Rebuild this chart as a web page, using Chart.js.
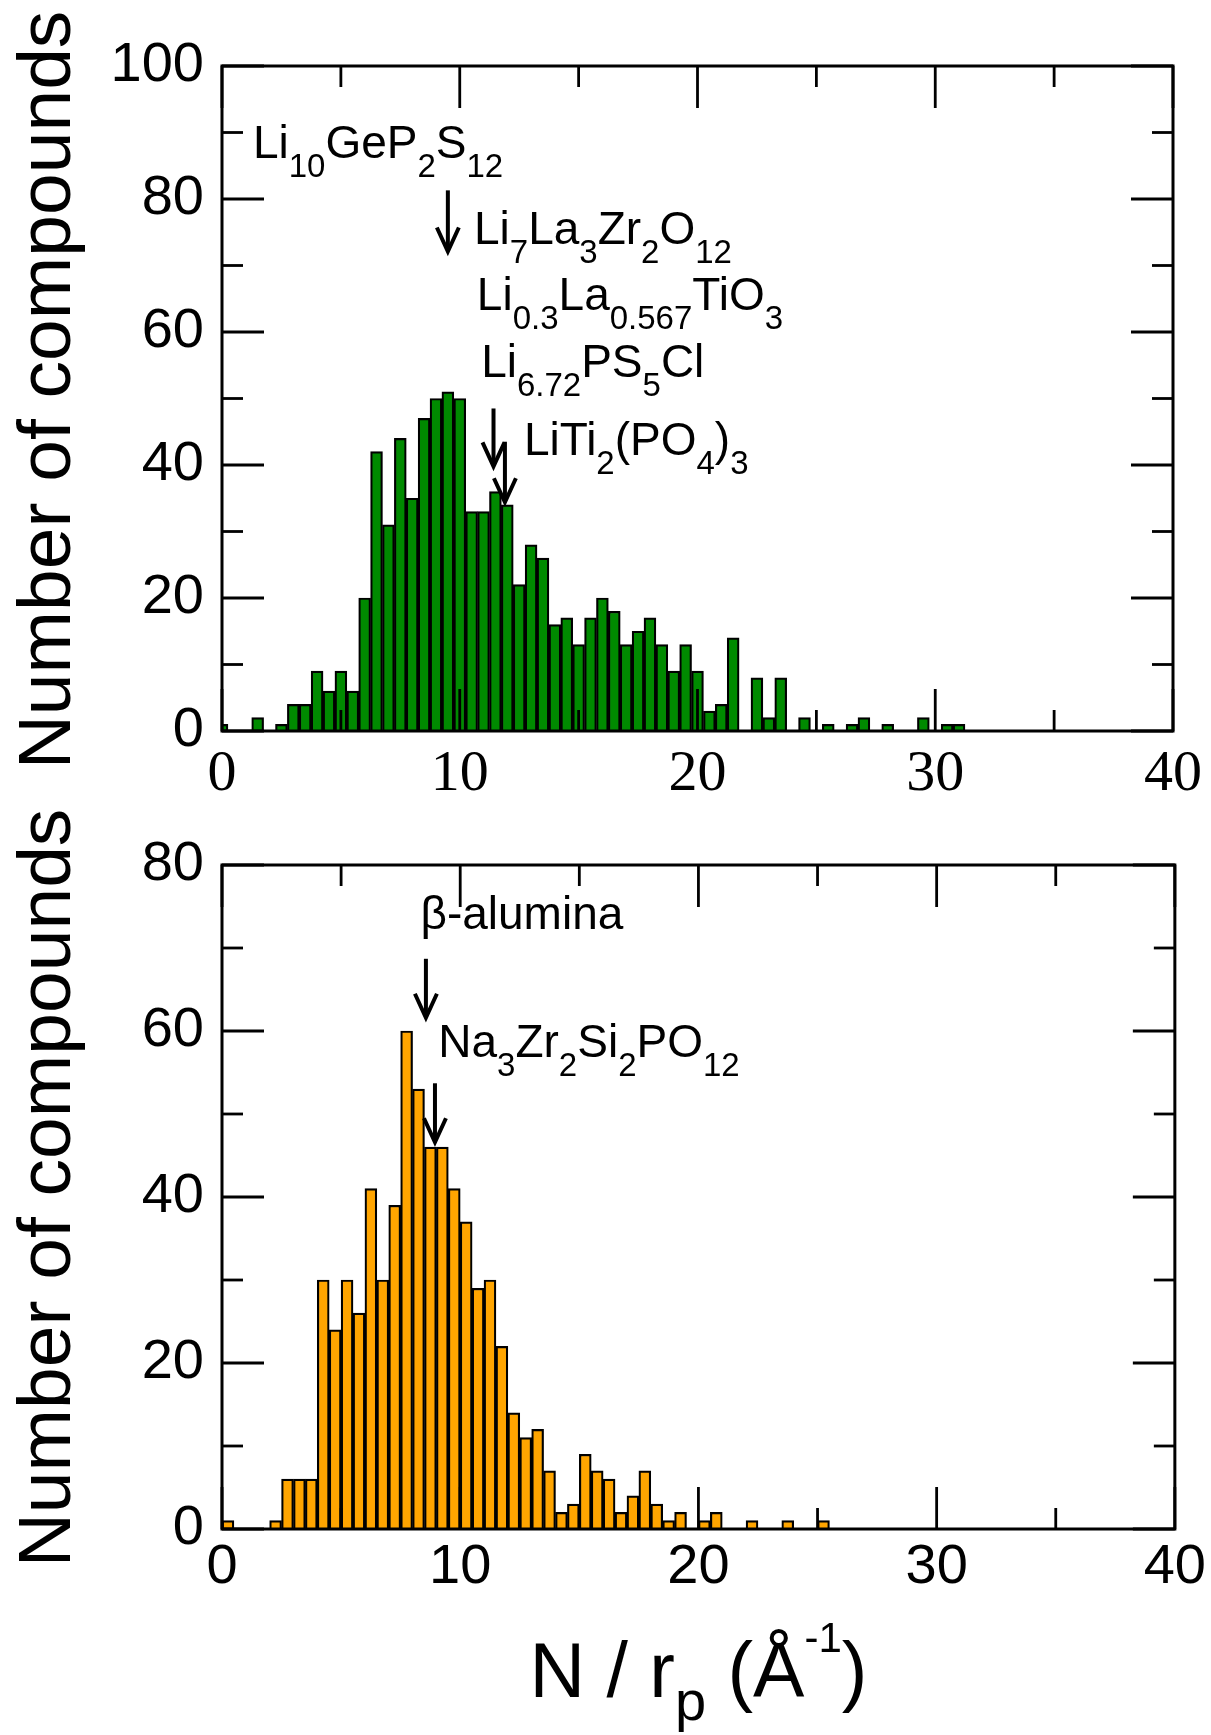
<!DOCTYPE html>
<html>
<head>
<meta charset="utf-8">
<script src="https://cdn.jsdelivr.net/npm/chart.js@4.4.1/dist/chart.umd.min.js"></script>
<style>
  html, body { margin: 0; padding: 0; background: #fff; }
  #wrap { position: relative; width: 1211px; height: 1735px; overflow: hidden; background: #fff; }
  canvas { position: absolute; left: 0; }
  #liChart { top: 0; }
  #naChart { top: 800px; }
</style>
</head>
<body>
<div id="wrap">
  <canvas id="liChart" width="1211" height="820"></canvas>
  <canvas id="naChart" width="1211" height="935"></canvas>
</div>
<script>
// Li compounds: bins centred on multiples of 0.5
var liBins = [0, 0.5, 1, 1.5, 2, 2.5, 3, 3.5, 4, 4.5, 5, 5.5, 6, 6.5, 7, 7.5, 8, 8.5, 9, 9.5,
  10, 10.5, 11, 11.5, 12, 12.5, 13, 13.5, 14, 14.5, 15, 15.5, 16, 16.5, 17, 17.5, 18, 18.5, 19, 19.5,
  20, 20.5, 21, 21.5, 22, 22.5, 23, 23.5, 24, 24.5, 25, 25.5, 26, 26.5, 27, 27.5, 28, 28.5, 29, 29.5,
  30, 30.5, 31];
var liCounts = [1, 0, 0, 2, 0, 1, 4, 4, 9, 6, 9, 6, 20, 42, 31, 44, 35, 47, 50, 51,
  50, 33, 33, 36, 34, 22, 28, 26, 16, 17, 13, 17, 20, 18, 13, 15, 17, 13, 9, 13,
  9, 3, 4, 14, 0, 8, 2, 8, 0, 2, 0, 1, 0, 1, 2, 0, 1, 0, 0, 2,
  0, 1, 1];

// Na compounds: bins [k*0.5, (k+1)*0.5], given by their centres
var naBins = [0.25, 0.75, 1.25, 1.75, 2.25, 2.75, 3.25, 3.75, 4.25, 4.75, 5.25, 5.75, 6.25, 6.75,
  7.25, 7.75, 8.25, 8.75, 9.25, 9.75, 10.25, 10.75, 11.25, 11.75, 12.25, 12.75, 13.25, 13.75,
  14.25, 14.75, 15.25, 15.75, 16.25, 16.75, 17.25, 17.75, 18.25, 18.75, 19.25, 19.75, 20.25, 20.75,
  21.25, 21.75, 22.25, 22.75, 23.25, 23.75, 24.25, 24.75, 25.25];
var naCounts = [1, 0, 0, 0, 1, 6, 6, 6, 30, 24, 30, 26, 41, 30,
  39, 60, 53, 46, 46, 41, 37, 29, 30, 22, 14, 11, 12, 7,
  2, 3, 9, 7, 6, 2, 4, 7, 3, 1, 2, 0, 1, 2,
  0, 0, 1, 0, 0, 1, 0, 0, 1];

var xMajorTicks = [0, 10, 20, 30, 40];
var xMinorTicks = [5, 15, 25, 35];
var liYMajorTicks = [0, 20, 40, 60, 80, 100];
var liYMinorTicks = [10, 30, 50, 70, 90];
var naYMajorTicks = [0, 20, 40, 60, 80];
var naYMinorTicks = [10, 30, 50, 70];

var liLabels = [
  { x: 1.3, y: 86.2, parts: [['Li'], ['10', 'sub'], ['GeP'], ['2', 'sub'], ['S'], ['12', 'sub']] },
  { x: 10.6, y: 73.3, parts: [['Li'], ['7', 'sub'], ['La'], ['3', 'sub'], ['Zr'], ['2', 'sub'], ['O'], ['12', 'sub']] },
  { x: 10.72, y: 63.3, parts: [['Li'], ['0.3', 'sub'], ['La'], ['0.567', 'sub'], ['TiO'], ['3', 'sub']] },
  { x: 10.9, y: 53.3, parts: [['Li'], ['6.72', 'sub'], ['PS'], ['5', 'sub'], ['Cl']] },
  { x: 12.7, y: 41.5, parts: [['LiTi'], ['2', 'sub'], ['(PO'], ['4', 'sub'], [')'], ['3', 'sub']] }
];
var liArrows = [
  { x: 9.5, from: 81.3, to: 72.1 },
  { x: 11.42, from: 48.5, to: 39.8 },
  { x: 11.9, from: 43.5, to: 34.4 }
];
var naLabels = [
  { x: 8.33, y: 72.3, parts: [['\u03b2-alumina']] },
  { x: 9.08, y: 56.9, parts: [['Na'], ['3', 'sub'], ['Zr'], ['2', 'sub'], ['Si'], ['2', 'sub'], ['PO'], ['12', 'sub']] }
];
var naArrows = [
  { x: 8.56, from: 68.7, to: 61.6 },
  { x: 8.94, from: 53.7, to: 46.6 }
];

var SANS = '"Liberation Sans", Arial, Helvetica, sans-serif';
var SERIF = '"Liberation Serif", "Times New Roman", serif';

function drawRich(ctx, x, y, parts, sz) {
  var cx = x;
  parts.forEach(function(p) {
    var kind = p[1] || 'n';
    var fs = kind === 'sub' ? sz.sub : (kind === 'sup' ? sz.sup : sz.main);
    var dy = kind === 'sub' ? sz.subDy : (kind === 'sup' ? -sz.supDy : 0);
    ctx.font = fs + 'px ' + SANS;
    ctx.fillText(p[0], cx, y + dy);
    cx += ctx.measureText(p[0]).width;
  });
  return cx - x;
}

function measureRich(ctx, parts, sz) {
  var w = 0;
  parts.forEach(function(p) {
    var kind = p[1] || 'n';
    var fs = kind === 'sub' ? sz.sub : (kind === 'sup' ? sz.sup : sz.main);
    ctx.font = fs + 'px ' + SANS;
    w += ctx.measureText(p[0]).width;
  });
  return w;
}

var framePlugin = {
  id: 'frame',
  afterDatasetsDraw: function(chart, args, o) {
    var ctx = chart.ctx, a = chart.chartArea;
    var xs = chart.scales.x, ys = chart.scales.y;
    ctx.save();
    ctx.strokeStyle = '#000';
    ctx.fillStyle = '#000';
    ctx.lineCap = 'butt';
    ctx.lineWidth = 2.8;

    function seg(x1, y1, x2, y2) {
      ctx.beginPath(); ctx.moveTo(x1, y1); ctx.lineTo(x2, y2); ctx.stroke();
    }
    function xTick(v, len) {
      var px = xs.getPixelForValue(v);
      seg(px, a.bottom, px, a.bottom - len);
      seg(px, a.top, px, a.top + len);
    }
    function yTick(v, len) {
      var py = ys.getPixelForValue(v);
      seg(a.left, py, a.left + len, py);
      seg(a.right, py, a.right - len, py);
    }
    xMajorTicks.forEach(function(v) { xTick(v, 42); });
    xMinorTicks.forEach(function(v) { xTick(v, 21); });
    o.yMajor.forEach(function(v) { yTick(v, 42); });
    o.yMinor.forEach(function(v) { yTick(v, 21); });

    ctx.lineWidth = 3;
    ctx.strokeRect(a.left, a.top, a.right - a.left, a.bottom - a.top);

    // arrows
    ctx.lineWidth = 4;
    o.arrows.forEach(function(ar) {
      var px = xs.getPixelForValue(ar.x);
      var y1 = ys.getPixelForValue(ar.from), y2 = ys.getPixelForValue(ar.to);
      seg(px, y1, px, y2 - 2);
      ctx.beginPath();
      ctx.moveTo(px - 11, y2 - 24); ctx.lineTo(px, y2); ctx.lineTo(px + 11, y2 - 24);
      ctx.stroke();
    });

    // compound labels
    ctx.textAlign = 'left';
    ctx.textBaseline = 'alphabetic';
    var sz = { main: 46, sub: 33, subDy: 19 };
    o.labels.forEach(function(l) {
      drawRich(ctx, xs.getPixelForValue(l.x), ys.getPixelForValue(l.y), l.parts, sz);
    });

    // y title
    ctx.save();
    ctx.translate(70, o.yTitleY);
    ctx.rotate(-Math.PI / 2);
    ctx.textAlign = 'center';
    ctx.font = '75px ' + SANS;
    ctx.fillText('Number of compounds', 0, 0);
    ctx.restore();

    // x title
    if (o.xTitle) {
      var tsz = { main: 77, sub: 56, subDy: 23, sup: 42, supDy: 45 };
      var parts = [['N / r'], ['p', 'sub'], [' (\u00c5'], ['-1', 'sup'], [')']];
      var w = measureRich(ctx, parts, tsz);
      ctx.textAlign = 'left';
      drawRich(ctx, (a.left + a.right) / 2 - w / 2, o.xTitleY, parts, tsz);
    }
    ctx.restore();
  }
};

function makeChart(id, bins, counts, color, o) {
  var pts = bins.map(function(b, i) { return { x: b, y: counts[i] }; });
  return new Chart(document.getElementById(id), {
    type: 'bar',
    data: {
      datasets: [{
        data: pts,
        backgroundColor: color,
        borderColor: '#000',
        borderWidth: 2.2,
        barPercentage: 1,
        categoryPercentage: 1
      }]
    },
    options: {
      responsive: false,
      animation: false,
      events: [],
      layout: { padding: { top: o.padTop, right: 35, left: 0, bottom: 0 } },
      plugins: {
        legend: { display: false },
        tooltip: { enabled: false },
        frame: o
      },
      scales: {
        x: {
          type: 'linear',
          min: 0,
          max: 40,
          offset: false,
          grid: { display: false, drawTicks: false, offset: false },
          border: { display: false },
          afterBuildTicks: function(s) { s.ticks = xMajorTicks.map(function(v) { return { value: v }; }); },
          afterFit: function(s) { s.height = o.xHeight; },
          ticks: { padding: o.xPad, color: '#000', font: o.xFont, maxRotation: 0, autoSkip: false }
        },
        y: {
          type: 'linear',
          min: 0,
          max: o.yMax,
          grid: { display: false, drawTicks: false },
          border: { display: false },
          afterBuildTicks: function(s) { s.ticks = o.yMajor.map(function(v) { return { value: v }; }); },
          afterFit: function(s) { s.width = 222; },
          ticks: { padding: 18, color: '#000', font: { family: SANS, size: 56 }, autoSkip: false }
        }
      }
    },
    plugins: [framePlugin]
  });
}

makeChart('liChart', liBins, liCounts, '#008a00', {
  padTop: 66, xHeight: 89, xPad: 9, yMax: 100,
  xFont: { family: SERIF, size: 58 },
  yMajor: liYMajorTicks, yMinor: liYMinorTicks,
  labels: liLabels, arrows: liArrows,
  yTitleY: 390, xTitle: false
});

makeChart('naChart', naBins, naCounts, '#ffa500', {
  padTop: 65, xHeight: 206, xPad: 5, yMax: 80,
  xFont: { family: SANS, size: 56 },
  yMajor: naYMajorTicks, yMinor: naYMinorTicks,
  labels: naLabels, arrows: naArrows,
  yTitleY: 388, xTitle: true, xTitleY: 897
});
</script>
</body>
</html>
